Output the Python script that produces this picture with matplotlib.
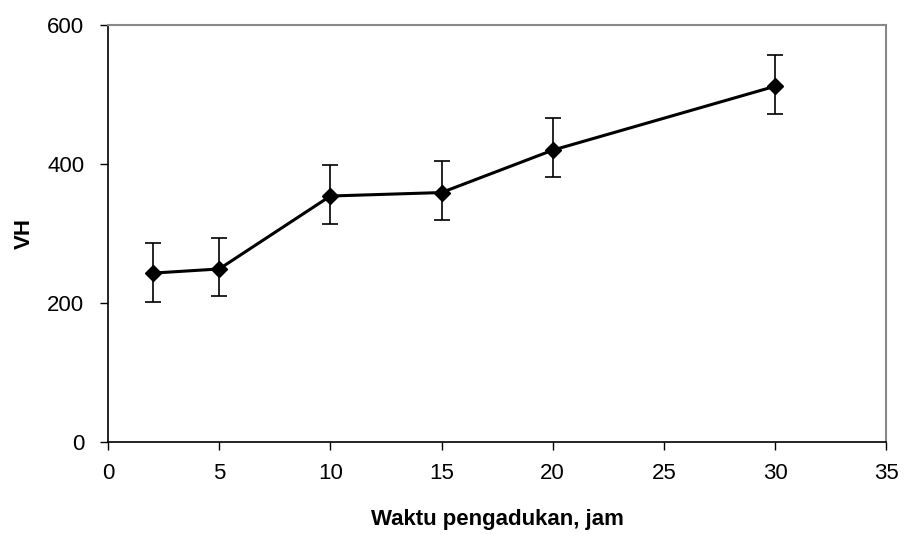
import matplotlib
matplotlib.use("Agg")
import matplotlib.pyplot as plt

# stirring time (hours) vs hardness
waktu = [2, 5, 10, 15, 20, 30]
vh = [243, 249, 354, 359, 420, 512]
err_low = [41, 39, 41, 39, 39, 40]
err_high = [44, 45, 44, 45, 46, 45]

x_ticks = [0, 5, 10, 15, 20, 25, 30, 35]
y_ticks = [0, 200, 400, 600]

plt.rcParams['font.family'] = ['Liberation Sans', 'DejaVu Sans']

fig = plt.figure(figsize=(9.08, 5.35), dpi=100)
ax = fig.add_axes([0.119, 0.174, 0.857, 0.779])

ax.errorbar(waktu, vh, yerr=[err_low, err_high], color="black", linewidth=2.2,
            marker="D", markersize=8, ecolor="black", elinewidth=1.2,
            capsize=6, capthick=1.2)

ax.set_xlim(0, 35)
ax.set_ylim(0, 600)
ax.set_xticks(x_ticks)
ax.set_yticks(y_ticks)
ax.tick_params(direction="out", length=6, width=1, labelsize=16)
ax.tick_params(axis="y", pad=11)
ax.tick_params(axis="x", pad=9)

for side in ["left", "bottom"]:
    ax.spines[side].set_color("black")
    ax.spines[side].set_linewidth(1.2)
for side in ["top", "right"]:
    ax.spines[side].set_color("#888888")
    ax.spines[side].set_linewidth(1.5)

ax.set_xlabel("Waktu pengadukan, jam", fontsize=16, fontweight="bold", labelpad=18)
ax.set_ylabel("VH", fontsize=16, fontweight="bold", labelpad=9)

fig.savefig("out.png", dpi=100)
